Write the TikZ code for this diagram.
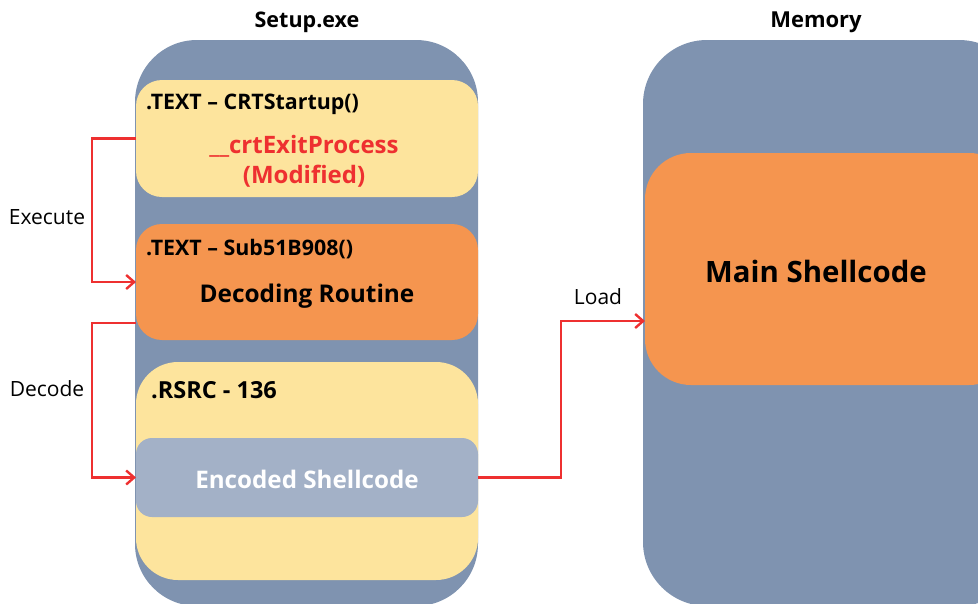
\documentclass[tikz,border=0pt]{standalone}
\usepackage{fontspec}
\setmainfont{Open Sans}
\usetikzlibrary{arrows.meta,calc}

\definecolor{slate}{HTML}{7F93B0}
\definecolor{sand}{HTML}{FDE49D}
\definecolor{tang}{HTML}{F5954F}
\definecolor{mist}{HTML}{A3B1C7}
\definecolor{flow}{HTML}{EE3030}

\newcommand{\fs}[2][0]{\fontsize{#2}{30}\selectfont}

\begin{document}
\begin{tikzpicture}[x=1pt,y=-1pt,
  box/.style={draw=none,inner sep=0pt,outer sep=0pt,rectangle},
  panel/.style={box,fill=slate,rounded corners=62pt},
  sect/.style={box,minimum width=342pt,rounded corners=26pt},
  head/.style={anchor=west,inner sep=0pt,font=\fs{21.4}\bfseries},
  side/.style={inner sep=0pt,font=\fs{21}},
  flowline/.style={draw=flow,line width=2.6pt,
    -{Straight Barb[length=8pt,width=14pt,line width=2.4pt]}}
]
\useasboundingbox (0,0) rectangle (978,603);
\clip (0,0) rectangle (978,603);

% titles
\node[inner sep=0pt,font=\fs{21.5}\bfseries] (ttlsetup) at (307,22) {Setup.exe};
\node[inner sep=0pt,font=\fs{22}\bfseries] (ttlmem) at (816,22) {Memory};

% Setup.exe panel
\node[panel,minimum width=343pt,minimum height=566pt] (setup) at (306.5,323) {};

\node[sect,fill=sand,minimum height=117pt] (crt) at (307,138.5) {};
\node[head] (crthead) at (146,104) {.TEXT -- CRTStartup()};
\node[inner sep=0pt,align=center,text=flow,font=\fs{24}\bfseries] (crtmod) at (304,161)
  {\_\_crtExitProcess\\(Modified)};

\node[sect,fill=tang,minimum height=116pt] (dec) at (307,282) {};
\node[head] (dechead) at (146,249) {.TEXT -- Sub51B908()};
\node[inner sep=0pt,font=\fs{24.4}\bfseries] (decbody) at (307,296) {Decoding Routine};

\node[sect,fill=sand,minimum height=218pt,rounded corners=42pt] (rsrc) at (307,471) {};
\node[head,font=\fs{23.5}\bfseries] (rsrchead) at (151,390) {.RSRC - 136};

\node[sect,fill=mist,minimum height=79pt,rounded corners=16pt] (enc) at (307,477.5) {};
\node[inner sep=0pt,text=white,font=\fs{24.2}\bfseries] (enctext) at (307,479) {Encoded Shellcode};

% Memory panel
\node[panel,minimum width=380pt,minimum height=566pt,rounded corners=64pt] (mem) at (833,323) {};
\node[box,fill=tang,minimum width=370pt,minimum height=232pt,rounded corners=46pt] (main) at (830,269) {};
\node[inner sep=0pt,font=\fs{29.4}\bfseries] (maintext) at (816,271) {Main Shellcode};

% connector labels
\node[side] (lblexec) at (47,217) {Execute};
\node[side] (lbldec) at (47,389) {Decode};
\node[side] (lblload) at (598,297) {Load};

% connectors
\draw[flowline] (crt.west) -- ++(-44,0) |- (dec.west);
\draw[flowline] ($(dec.west)+(0,41)$) -- ++(-44,0) |- (enc.west);
\draw[flowline] (enc.east) -- ++(83,0) |- ($(main.west)+(0,52)$);
\end{tikzpicture}
\end{document}
